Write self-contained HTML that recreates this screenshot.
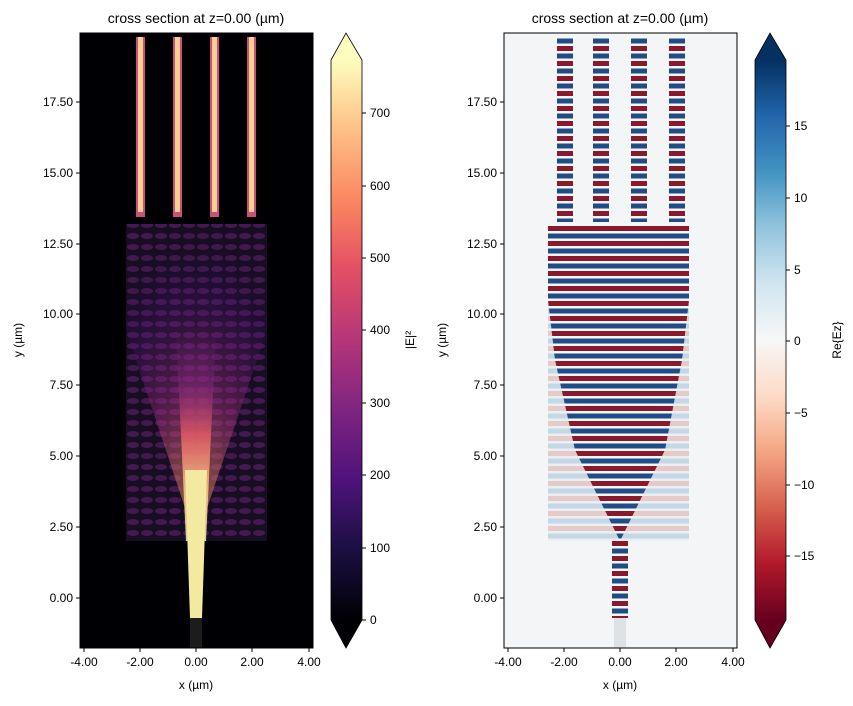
<!DOCTYPE html>
<html><head><meta charset="utf-8"><style>
body{margin:0;background:#fff;}
text{font-family:"Liberation Sans","DejaVu Sans",sans-serif;font-size:12px;fill:#000}
.t{font-size:14px}
</style></head><body>
<svg width="853" height="701" xmlns="http://www.w3.org/2000/svg">
<defs>
<linearGradient id="magma" x1="0" y1="1" x2="0" y2="0">
<stop offset="0" stop-color="#000004"/><stop offset="0.13" stop-color="#1c1044"/><stop offset="0.25" stop-color="#4f127b"/><stop offset="0.38" stop-color="#812581"/><stop offset="0.5" stop-color="#b5367a"/><stop offset="0.63" stop-color="#e55064"/><stop offset="0.75" stop-color="#fb8761"/><stop offset="0.88" stop-color="#fec287"/><stop offset="1" stop-color="#fcfdbf"/>
</linearGradient>
<linearGradient id="rdbu" x1="0" y1="1" x2="0" y2="0">
<stop offset="0" stop-color="#67001f"/><stop offset="0.1" stop-color="#b2182b"/><stop offset="0.2" stop-color="#d6604d"/><stop offset="0.3" stop-color="#f4a582"/><stop offset="0.4" stop-color="#fddbc7"/><stop offset="0.5" stop-color="#f7f7f7"/><stop offset="0.6" stop-color="#d1e5f0"/><stop offset="0.7" stop-color="#92c5de"/><stop offset="0.8" stop-color="#4393c3"/><stop offset="0.9" stop-color="#2166ac"/><stop offset="1" stop-color="#053061"/>
</linearGradient>
<pattern id="rb" width="20" height="15" patternUnits="userSpaceOnUse">
<rect width="20" height="15" fill="#f7f7f7"/><rect y="1" width="20" height="5" fill="#8a1a2b"/><rect y="8.5" width="20" height="5" fill="#1f4e86"/>
</pattern>
<pattern id="rbl" width="20" height="15" patternUnits="userSpaceOnUse">
<rect width="20" height="15" fill="#f3f5f7"/><rect y="1" width="20" height="5" fill="#e08a80"/><rect y="8.5" width="20" height="5" fill="#7fb0d5"/>
</pattern>
<pattern id="mg" width="14" height="11" patternUnits="userSpaceOnUse">
<rect width="14" height="11" fill="#1a0a30"/><ellipse cx="7" cy="5" rx="6" ry="3" fill="#6a1d80"/>
</pattern>
<radialGradient id="glow" cx="0.5" cy="1" r="1">
<stop offset="0" stop-color="#fcfdbf"/><stop offset="0.2" stop-color="#f98e62"/><stop offset="0.45" stop-color="#a8327c"/><stop offset="0.8" stop-color="#4a1178" stop-opacity="0.5"/><stop offset="1" stop-color="#000" stop-opacity="0"/>
</radialGradient>
<linearGradient id="col" x1="0" y1="1" x2="0" y2="0">
<stop offset="0" stop-color="#fcf3b0"/><stop offset="0.25" stop-color="#fbc88a"/><stop offset="0.5" stop-color="#e55c64"/><stop offset="0.75" stop-color="#8a2a82" stop-opacity="0.5"/><stop offset="1" stop-color="#8a2a82" stop-opacity="0"/>
</linearGradient>
</defs>

<rect x="80" y="33" width="233" height="615" fill="#000004"/>
<rect x="126" y="224" width="141" height="317" fill="#141414"/>
<rect x="190" y="618" width="12" height="30" fill="#1c1c1c"/>
<rect x="126" y="224" width="141" height="317" fill="url(#mg)" opacity="0.55"/>
<polygon points="196,541 126,330 126,224 267,224 267,330" fill="url(#glow)" opacity="0.45"/>
<polygon points="186,541 206,541 216,330 176,330" fill="url(#col)" opacity="0.85"/>
<polygon points="190,618 202,618 207,470 185,470" fill="#f3e9a0"/>
<g fill="#c8507a">
<rect x="136" y="37" width="9" height="180"/><rect x="173" y="37" width="9" height="180"/><rect x="210" y="37" width="9" height="180"/><rect x="247" y="37" width="9" height="180"/>
</g>
<g fill="#f9d090">
<rect x="138" y="37" width="5" height="175"/><rect x="175" y="37" width="5" height="175"/><rect x="212" y="37" width="5" height="175"/><rect x="249" y="37" width="5" height="175"/>
</g>
<rect x="80" y="33" width="233" height="615" fill="none" stroke="#000"/>

<rect x="504" y="33" width="233" height="615" fill="#f3f5f7"/>
<rect x="548" y="224" width="141" height="317" fill="#e8ecef"/>
<rect x="614" y="618" width="12" height="30" fill="#dfe2e5"/>
<rect x="548" y="224" width="141" height="317" fill="url(#rbl)" opacity="0.35"/>
<polygon points="620,541 575,450 555,360 548,300 548,224 689,224 689,300 682,360 665,450" fill="url(#rb)"/>
<rect x="612" y="541" width="16" height="77" fill="url(#rb)"/>
<g fill="url(#rb)">
<rect x="557" y="37" width="16" height="185"/><rect x="593" y="37" width="16" height="185"/><rect x="631" y="37" width="16" height="185"/><rect x="669" y="37" width="16" height="185"/>
</g>
<rect x="504" y="33" width="233" height="615" fill="none" stroke="#000"/>

<g stroke="#000">
<line x1="84" y1="648" x2="84" y2="652"/><line x1="140" y1="648" x2="140" y2="652"/><line x1="196" y1="648" x2="196" y2="652"/><line x1="252" y1="648" x2="252" y2="652"/><line x1="309" y1="648" x2="309" y2="652"/>
<line x1="508" y1="648" x2="508" y2="652"/><line x1="564" y1="648" x2="564" y2="652"/><line x1="620" y1="648" x2="620" y2="652"/><line x1="676" y1="648" x2="676" y2="652"/><line x1="733" y1="648" x2="733" y2="652"/>
</g>
<g text-anchor="middle">
<text x="84" y="666">-4.00</text><text x="140" y="666">-2.00</text><text x="196" y="666">0.00</text><text x="252" y="666">2.00</text><text x="309" y="666">4.00</text>
<text x="508" y="666">-4.00</text><text x="564" y="666">-2.00</text><text x="620" y="666">0.00</text><text x="676" y="666">2.00</text><text x="733" y="666">4.00</text>
<text x="196" y="689">x (µm)</text><text x="620" y="689">x (µm)</text>
<text class="t" x="196" y="23">cross section at z=0.00 (µm)</text>
<text class="t" x="620" y="23">cross section at z=0.00 (µm)</text>
</g>
<g text-anchor="end">
<text x="73" y="602">0.00</text><text x="73" y="531">2.50</text><text x="73" y="460">5.00</text><text x="73" y="389">7.50</text><text x="73" y="318">10.00</text><text x="73" y="248">12.50</text><text x="73" y="177">15.00</text><text x="73" y="106">17.50</text>
<text x="497" y="602">0.00</text><text x="497" y="531">2.50</text><text x="497" y="460">5.00</text><text x="497" y="389">7.50</text><text x="497" y="318">10.00</text><text x="497" y="248">12.50</text><text x="497" y="177">15.00</text><text x="497" y="106">17.50</text>
</g>
<g stroke="#000">
<line x1="76" y1="598" x2="80" y2="598"/><line x1="76" y1="527" x2="80" y2="527"/><line x1="76" y1="456" x2="80" y2="456"/><line x1="76" y1="385" x2="80" y2="385"/><line x1="76" y1="314" x2="80" y2="314"/><line x1="76" y1="244" x2="80" y2="244"/><line x1="76" y1="173" x2="80" y2="173"/><line x1="76" y1="102" x2="80" y2="102"/>
<line x1="500" y1="598" x2="504" y2="598"/><line x1="500" y1="527" x2="504" y2="527"/><line x1="500" y1="456" x2="504" y2="456"/><line x1="500" y1="385" x2="504" y2="385"/><line x1="500" y1="314" x2="504" y2="314"/><line x1="500" y1="244" x2="504" y2="244"/><line x1="500" y1="173" x2="504" y2="173"/><line x1="500" y1="102" x2="504" y2="102"/>
</g>
<text x="22" y="340" transform="rotate(-90 22 340)" text-anchor="middle">y (µm)</text>
<text x="446" y="340" transform="rotate(-90 446 340)" text-anchor="middle">y (µm)</text>

<polygon points="331,60 346,33 362,60" fill="#fcfdbf"/>
<rect x="331" y="60" width="31" height="560" fill="url(#magma)"/>
<polygon points="331,620 346,648 362,620" fill="#000004"/>
<path d="M331,60 L346,33 L362,60 L362,620 L346,648 L331,620 Z" fill="none" stroke="#000" stroke-width="0.8"/>
<g stroke="#000"><line x1="362" y1="620" x2="366" y2="620"/><line x1="362" y1="548" x2="366" y2="548"/><line x1="362" y1="475" x2="366" y2="475"/><line x1="362" y1="403" x2="366" y2="403"/><line x1="362" y1="330" x2="366" y2="330"/><line x1="362" y1="258" x2="366" y2="258"/><line x1="362" y1="186" x2="366" y2="186"/><line x1="362" y1="113" x2="366" y2="113"/></g>
<g><text x="370" y="624">0</text><text x="370" y="552">100</text><text x="370" y="479">200</text><text x="370" y="407">300</text><text x="370" y="334">400</text><text x="370" y="262">500</text><text x="370" y="190">600</text><text x="370" y="117">700</text></g>
<text x="414" y="340" transform="rotate(-90 414 340)" text-anchor="middle">|E|²</text>

<polygon points="755,60 770,33 786,60" fill="#053061"/>
<rect x="755" y="60" width="31" height="560" fill="url(#rdbu)"/>
<polygon points="755,620 770,648 786,620" fill="#67001f"/>
<path d="M755,60 L770,33 L786,60 L786,620 L770,648 L755,620 Z" fill="none" stroke="#000" stroke-width="0.8"/>
<g stroke="#000"><line x1="786" y1="126" x2="790" y2="126"/><line x1="786" y1="198" x2="790" y2="198"/><line x1="786" y1="270" x2="790" y2="270"/><line x1="786" y1="341" x2="790" y2="341"/><line x1="786" y1="413" x2="790" y2="413"/><line x1="786" y1="485" x2="790" y2="485"/><line x1="786" y1="556" x2="790" y2="556"/></g>
<g><text x="794" y="130">15</text><text x="794" y="202">10</text><text x="794" y="274">5</text><text x="794" y="345">0</text><text x="794" y="417">−5</text><text x="794" y="489">−10</text><text x="794" y="560">−15</text></g>
<text x="841" y="340" transform="rotate(-90 841 340)" text-anchor="middle">Re{Ez}</text>
</svg>
</body></html>
